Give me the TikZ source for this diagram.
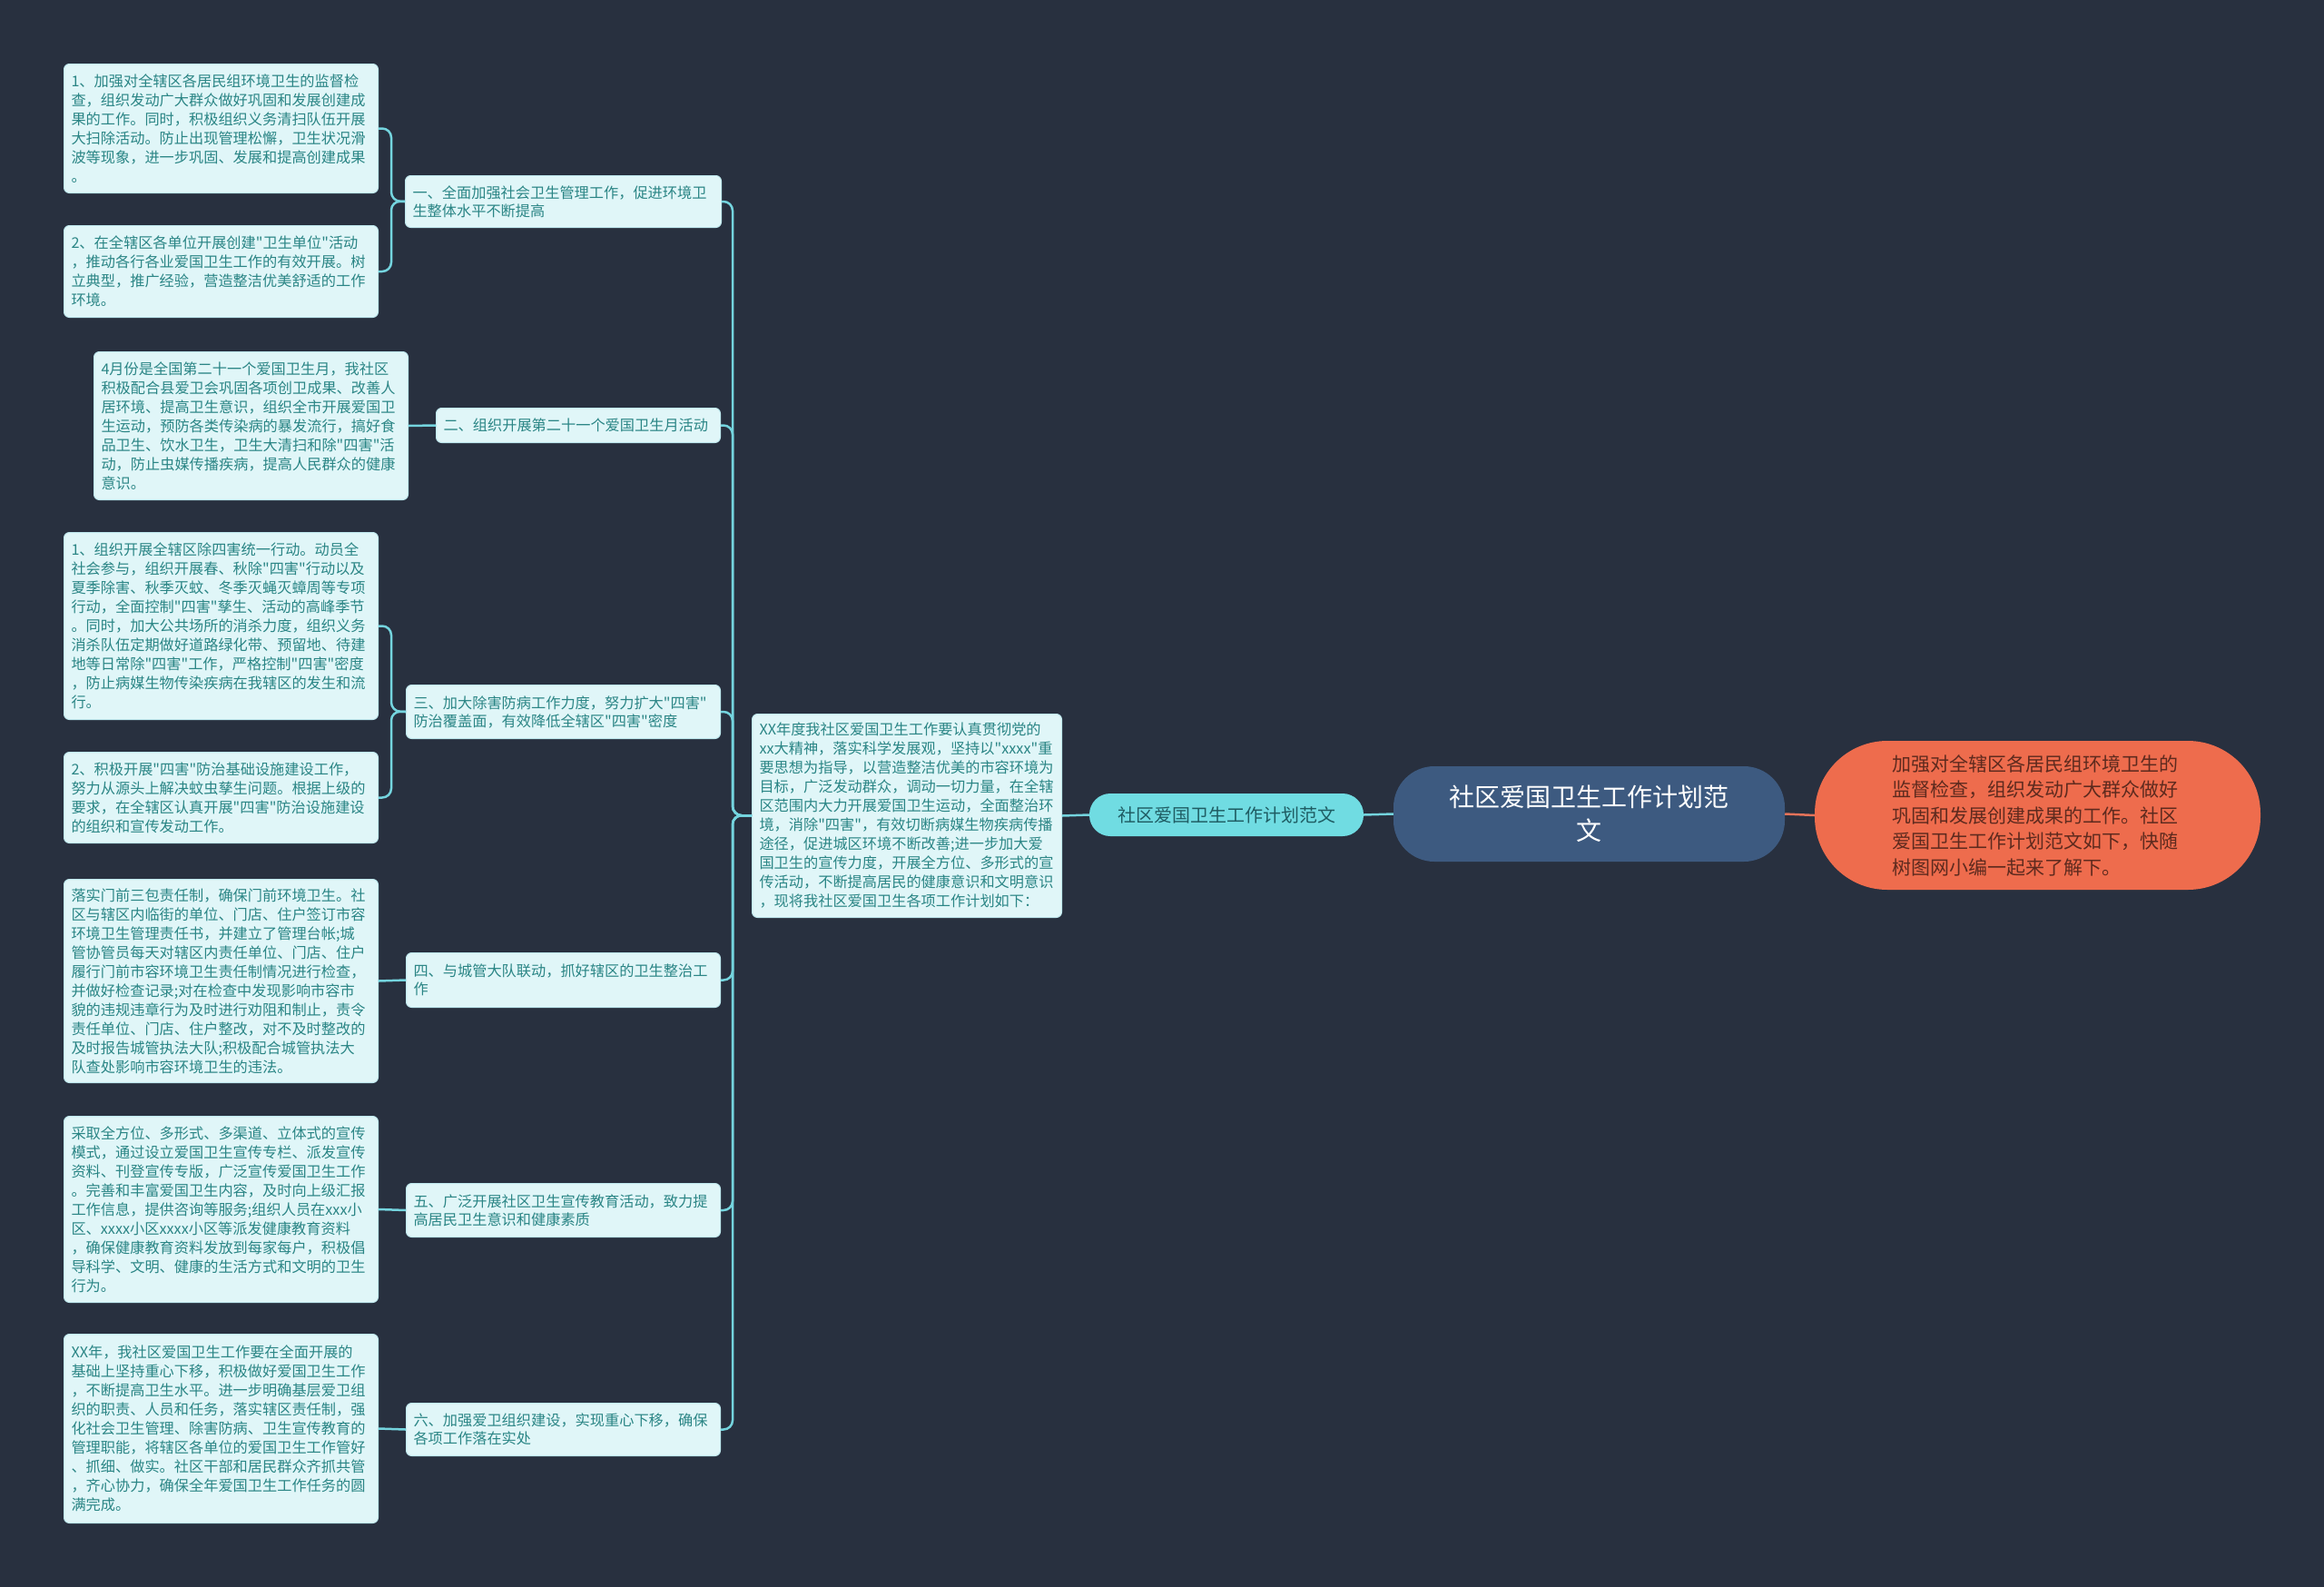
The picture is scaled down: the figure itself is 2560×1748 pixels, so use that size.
\documentclass[tikz,border=0pt]{standalone}
\usepackage{fontspec}
\setmainfont{Noto Sans CJK SC}[Ligatures=TeXOff]
\definecolor{bg}{HTML}{28303F}
\definecolor{leaffill}{HTML}{E0F6F8}
\definecolor{leafborder}{HTML}{BFE8EE}
\definecolor{leaftext}{HTML}{2A8585}
\definecolor{conncol}{HTML}{74D4DE}
\definecolor{pillfill}{HTML}{70DCE2}
\definecolor{pilltext}{HTML}{1F5C63}
\definecolor{rootfill}{HTML}{3D5A80}
\definecolor{orangefill}{HTML}{EE6C4D}
\definecolor{orangetext}{HTML}{5E2A1E}
\definecolor{redline}{HTML}{E5735A}
\begin{document}
\begin{tikzpicture}[x=1pt,y=-1pt,
  leaf/.style={draw=leafborder, line width=1pt, fill=leaffill, rounded corners=6pt,
    text=leaftext, font=\fontsize{16.2}{21}\selectfont, align=left,
    inner xsep=8pt, inner ysep=4pt, anchor=north west},
  mid/.style={leaf, font=\fontsize{16.2}{20}\selectfont},
  conn/.style={draw=conncol, line width=2.5pt, rounded corners=10pt},
]
\useasboundingbox (0,0) rectangle (2560,1748);
\fill[bg] (0,0) rectangle (2560,1748);

% leaves
\node[leaf, text width=330pt, minimum height=142pt] (L1) at (70,70) {1、加强对全辖区各居民组环境卫生的监督检\\查，组织发动广大群众做好巩固和发展创建成\\果的工作。同时，积极组织义务清扫队伍开展\\大扫除活动。防止出现管理松懈，卫生状况滑\\波等现象，进一步巩固、发展和提高创建成果\\。};
\node[leaf, text width=330pt, minimum height=101pt] (L2) at (70,248) {2、在全辖区各单位开展创建"卫生单位"活动\\，推动各行各业爱国卫生工作的有效开展。树\\立典型，推广经验，营造整洁优美舒适的工作\\环境。};
\node[leaf, text width=330pt, minimum height=163pt] (L3) at (103,387) {4月份是全国第二十一个爱国卫生月，我社区\\积极配合县爱卫会巩固各项创卫成果、改善人\\居环境、提高卫生意识，组织全市开展爱国卫\\生运动，预防各类传染病的暴发流行，搞好食\\品卫生、饮水卫生，卫生大清扫和除"四害"活\\动，防止虫媒传播疾病，提高人民群众的健康\\意识。};
\node[leaf, text width=330pt, minimum height=206pt] (L4) at (70,586) {1、组织开展全辖区除四害统一行动。动员全\\社会参与，组织开展春、秋除"四害"行动以及\\夏季除害、秋季灭蚊、冬季灭蝇灭蟑周等专项\\行动，全面控制"四害"孳生、活动的高峰季节\\。同时，加大公共场所的消杀力度，组织义务\\消杀队伍定期做好道路绿化带、预留地、待建\\地等日常除"四害"工作，严格控制"四害"密度\\，防止病媒生物传染疾病在我辖区的发生和流\\行。};
\node[leaf, text width=330pt, minimum height=100pt] (L5) at (70,828) {2、积极开展"四害"防治基础设施建设工作，\\努力从源头上解决蚊虫孳生问题。根据上级的\\要求，在全辖区认真开展"四害"防治设施建设\\的组织和宣传发动工作。};
\node[leaf, text width=330pt, minimum height=224pt] (L6) at (70,968) {落实门前三包责任制，确保门前环境卫生。社\\区与辖区内临街的单位、门店、住户签订市容\\环境卫生管理责任书，并建立了管理台帐;城\\管协管员每天对辖区内责任单位、门店、住户\\履行门前市容环境卫生责任制情况进行检查，\\并做好检查记录;对在检查中发现影响市容市\\貌的违规违章行为及时进行劝阻和制止，责令\\责任单位、门店、住户整改，对不及时整改的\\及时报告城管执法大队;积极配合城管执法大\\队查处影响市容环境卫生的违法。};
\node[leaf, text width=330pt, minimum height=205pt] (L7) at (70,1229) {采取全方位、多形式、多渠道、立体式的宣传\\模式，通过设立爱国卫生宣传专栏、派发宣传\\资料、刊登宣传专版，广泛宣传爱国卫生工作\\。完善和丰富爱国卫生内容，及时向上级汇报\\工作信息，提供咨询等服务;组织人员在xxx小\\区、xxxx小区xxxx小区等派发健康教育资料\\，确保健康教育资料发放到每家每户，积极倡\\导科学、文明、健康的生活方式和文明的卫生\\行为。};
\node[leaf, text width=330pt, minimum height=208pt] (L8) at (70,1469) {XX年，我社区爱国卫生工作要在全面开展的\\基础上坚持重心下移，积极做好爱国卫生工作\\，不断提高卫生水平。进一步明确基层爱卫组\\织的职责、人员和任务，落实辖区责任制，强\\化社会卫生管理、除害防病、卫生宣传教育的\\管理职能，将辖区各单位的爱国卫生工作管好\\、抓细、做实。社区干部和居民群众齐抓共管\\，齐心协力，确保全年爱国卫生工作任务的圆\\满完成。};

% middle labels
\node[mid, text width=332pt, minimum height=57pt] (M1) at (446,193) {一、全面加强社会卫生管理工作，促进环境卫\\生整体水平不断提高};
\node[mid, text width=297pt, minimum height=38pt] (M2) at (480,449) {二、组织开展第二十一个爱国卫生月活动};
\node[mid, text width=330pt, minimum height=59pt] (M3) at (447,754) {三、加大除害防病工作力度，努力扩大"四害"\\防治覆盖面，有效降低全辖区"四害"密度};
\node[mid, text width=330pt, minimum height=60pt] (M4) at (447,1049) {四、与城管大队联动，抓好辖区的卫生整治工\\作};
\node[mid, text width=330pt, minimum height=59pt] (M5) at (447,1303) {五、广泛开展社区卫生宣传教育活动，致力提\\高居民卫生意识和健康素质};
\node[mid, text width=330pt, minimum height=58pt] (M6) at (447,1545) {六、加强爱卫组织建设，实现重心下移，确保\\各项工作落在实处};

% central text
\node[leaf, text width=325pt, minimum height=224pt] (C) at (828,786) {XX年度我社区爱国卫生工作要认真贯彻党的\\xx大精神，落实科学发展观，坚持以"xxxx"重\\要思想为指导，以营造整洁优美的市容环境为\\目标，广泛发动群众，调动一切力量，在全辖\\区范围内大力开展爱国卫生运动，全面整治环\\境，消除"四害"，有效切断病媒生物疾病传播\\途径，促进城区环境不断改善;进一步加大爱\\国卫生的宣传力度，开展全方位、多形式的宣\\传活动，不断提高居民的健康意识和文明意识\\，现将我社区爱国卫生各项工作计划如下：};

% pill, root, orange
\node[fill=pillfill, rounded corners=23pt, minimum width=302pt, minimum height=47pt,
  text=pilltext, font=\fontsize{20}{24}\selectfont, inner sep=0pt] (P) at (1351,897.5) {社区爱国卫生工作计划范文};
\node[fill=rootfill, rounded corners=45pt, minimum width=431pt, minimum height=105pt,
  text=white, font=\fontsize{28}{37}\selectfont, align=center, inner sep=0pt] (R) at (1750.5,896.5) {社区爱国卫生工作计划范\\文};
\node[fill=orangefill, rounded corners=80pt, minimum width=491pt, minimum height=164pt,
  text=orangetext, font=\fontsize{21}{28.5}\selectfont, align=left, text width=320pt, inner sep=0pt] (O) at (2244.5,898) {加强对全辖区各居民组环境卫生的\\监督检查，组织发动广大群众做好\\巩固和发展创建成果的工作。社区\\爱国卫生工作计划范文如下，快随\\树图网小编一起来了解下。};

% connectors
\coordinate (T) at (807,898);
\coordinate (B1) at (431,221.5);
\coordinate (B3) at (431,783.5);
\foreach \m in {M1,M2,M3,M4,M5,M6} \draw[conn] (C.west) -- (T) |- (\m.east);
\draw[conn] (M1.west) -- (B1) |- (L1.east);
\draw[conn] (M1.west) -- (B1) |- (L2.east);
\draw[conn] (M3.west) -- (B3) |- (L4.east);
\draw[conn] (M3.west) -- (B3) |- (L5.east);
\draw[conn] (M2.west) -- (L3.east);
\draw[conn] (M4.west) -- (L6.east);
\draw[conn] (M5.west) -- (L7.east);
\draw[conn] (M6.west) -- (L8.east);
\draw[conn] (P.west) -- (C.east);
\draw[conn] (R.west) -- (P.east);
\draw[draw=redline, line width=2.5pt] (R.east) -- (O.west);
\end{tikzpicture}
\end{document}
